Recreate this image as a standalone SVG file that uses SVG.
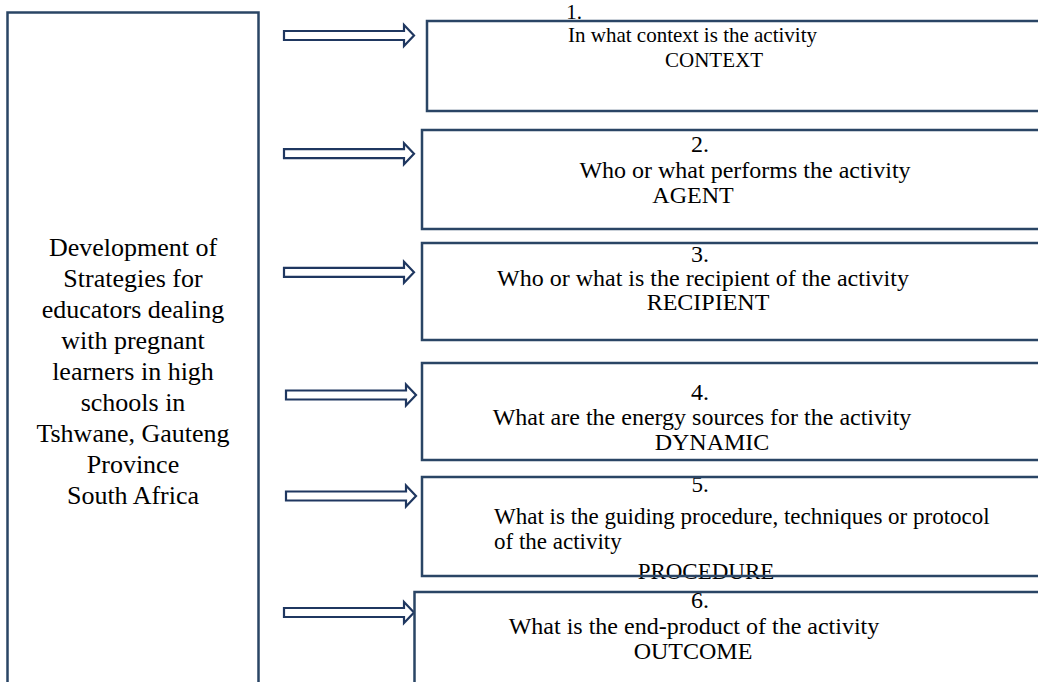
<svg xmlns="http://www.w3.org/2000/svg" width="1038" height="682" viewBox="0 0 1038 682">
<style>
.box{fill:#ffffff;stroke:#2a4565;stroke-width:2.5}
.arr{fill:#ffffff;stroke:#1f3760;stroke-width:2.2;stroke-linejoin:miter}
.t{font-family:"Liberation Serif","Times New Roman",serif;font-size:24px;fill:#000000}
.tm{text-anchor:middle}
.l{font-family:"Liberation Serif","Times New Roman",serif;font-size:26px;fill:#000000;text-anchor:middle}
.s23{font-size:23px}
.s21{font-size:21px}
</style>
<defs>
<path id="blockArrow" d="M0,-4.5 H120 V-10.5 L130,0 L120,10.5 V4.5 H0 Z"/>
</defs>
<rect width="1038" height="682" fill="#ffffff"/>
<g id="main-topic">
<rect class="box" x="7.5" y="12.5" width="251" height="700"/>
<text class="l" x="133" y="256">Development of</text>
<text class="l" x="133" y="287">Strategies for</text>
<text class="l" x="133" y="318">educators dealing</text>
<text class="l" x="133" y="349">with pregnant</text>
<text class="l" x="133" y="380">learners in high</text>
<text class="l" x="133" y="411">schools in</text>
<text class="l" x="133" y="442">Tshwane, Gauteng</text>
<text class="l" x="133" y="473">Province</text>
<text class="l" x="133" y="504">South Africa</text>
</g>
<g id="connectors">
<use href="#blockArrow" class="arr" transform="translate(284,35.5)"/>
<use href="#blockArrow" class="arr" transform="translate(284,153.7)"/>
<use href="#blockArrow" class="arr" transform="translate(284,272.3)"/>
<use href="#blockArrow" class="arr" transform="translate(286,395)"/>
<use href="#blockArrow" class="arr" transform="translate(286,496)"/>
<use href="#blockArrow" class="arr" transform="translate(284,612.5)"/>
</g>
<g id="context">
<rect class="box" x="427" y="21" width="640" height="90"/>
<text class="t tm s21" x="574" y="19">1.</text>
<text class="t s21" x="568" y="42">In what context is the activity</text>
<text class="t tm s21" x="714" y="67">CONTEXT</text>
</g>
<g id="agent">
<rect class="box" x="422" y="130" width="640" height="99"/>
<text class="t tm" x="700" y="152">2.</text>
<text class="t tm" x="745" y="178">Who or what performs the activity</text>
<text class="t tm" x="693" y="203">AGENT</text>
</g>
<g id="recipient">
<rect class="box" x="422" y="243" width="640" height="97"/>
<text class="t tm" x="700" y="262">3.</text>
<text class="t tm" x="703" y="286">Who or what is the recipient of the activity</text>
<text class="t tm" x="708" y="310">RECIPIENT</text>
</g>
<g id="dynamic">
<rect class="box" x="422" y="363" width="640" height="97"/>
<text class="t tm" x="700" y="400">4.</text>
<text class="t tm" x="702" y="425">What are the energy sources for the activity</text>
<text class="t tm" x="712" y="450">DYNAMIC</text>
</g>
<g id="procedure">
<text class="t tm s23" x="700" y="492">5.</text>
<text class="t s23" x="494" y="524">What is the guiding procedure, techniques or protocol</text>
<text class="t s23" x="494" y="549">of the activity</text>
<text class="t tm s23" x="706" y="579">PROCEDURE</text>
<rect class="box" x="422" y="477" width="640" height="99" style="fill:none"/>
</g>
<g id="outcome">
<rect class="box" x="414.5" y="592" width="650" height="120"/>
<text class="t tm" x="700" y="608">6.</text>
<text class="t tm" x="694" y="634">What is the end-product of the activity</text>
<text class="t tm" x="693" y="659">OUTCOME</text>
</g>
</svg>
